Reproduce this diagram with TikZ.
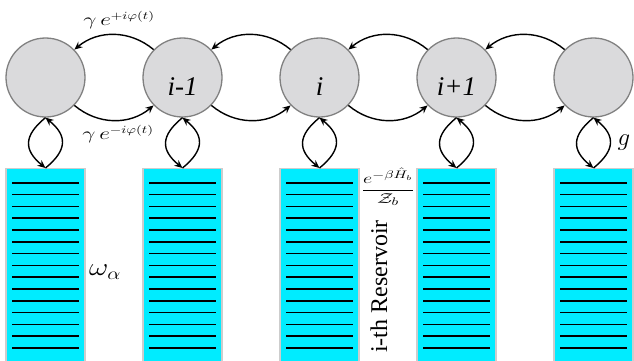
\documentclass[tikz,border=0pt]{standalone}
\usepackage{fontspec}
\usepackage{amsmath}
\setmainfont{Liberation Serif}
\newfontfamily\lblfont{Liberation Serif}
\usetikzlibrary{arrows.meta}
\definecolor{circfill}{RGB}{218,218,220}
\definecolor{circedge}{RGB}{128,128,128}
\definecolor{rescyan}{RGB}{0,236,255}
\definecolor{resedge}{RGB}{205,205,205}
\tikzset{
 osc/.style={circle, draw=circedge, fill=circfill, line width=1.3pt, minimum size=79pt, inner sep=0pt},
 res/.style={rectangle, draw=resedge, fill=rescyan, line width=1.3pt, minimum width=79pt, minimum height=200pt, anchor=north, inner sep=0pt},
 hop/.style={-{Stealth[length=8pt,width=7pt]}, line width=1.4pt},
 lvl/.style={line width=1.6pt},
 olbl/.style={font=\lblfont\fontsize{27}{30}\selectfont\itshape, anchor=base, inner sep=0pt},
 mlbl/.style={inner sep=0pt},
}
\begin{document}
\begin{tikzpicture}[x=1pt,y=1pt]
\useasboundingbox (0,0) rectangle (634,-360);
\clip (0,0) rectangle (634,-360);
\foreach \k/\x in {1/45.5,2/182.5,3/319.5,4/456.5,5/593.5} {
  \node[osc] (c\k) at (\x,-77.5) {};
  \node[res] (r\k) at (\x,-168) {};
  \foreach \j in {0,...,14} {
    \draw[lvl] ([shift={(-33.5,{-14.7-11.8*\j})}]r\k.north) -- ++(67,0);
  }
  \draw[hop] (c\k.south) .. controls +(-22,-18) and +(-22,18) .. (r\k.north);
  \draw[hop] (r\k.north) .. controls +(22,18) and +(22,-18) .. (c\k.south);
}
\foreach \a/\b in {1/2,2/3,3/4,4/5} {
  \draw[hop] (c\b.136) to[bend right=40] (c\a.44);
  \draw[hop] (c\a.-44) to[bend right=40] (c\b.-136);
}
\node[olbl] (l2) at (182.5,-95) {i-1};
\node[olbl] (l3) at (319.5,-95) {i};
\node[olbl] (l4) at (456.5,-95) {i+1};
\node[mlbl] (gp) at (119,-20) {\scalebox{1.35}[1]{\fontsize{16}{18}\selectfont $\gamma\, e^{+i\varphi(t)}$}};
\node[mlbl] (gm) at (118,-134) {\scalebox{1.35}[1]{\fontsize{16}{18}\selectfont $\gamma\, e^{-i\varphi(t)}$}};
\node[mlbl] (gg) at (624,-143) {\fontsize{28}{30}\selectfont $g$};
\node[mlbl] (om) at (105,-272) {\scalebox{1.2}[1]{\fontsize{23}{26}\selectfont $\omega_\alpha$}};
\node[mlbl] (fr) at (388,-187) {\scalebox{1.4}[1]{\fontsize{15}{18}\selectfont $\displaystyle\frac{e^{-\beta\hat{H}_b}}{\mathcal{Z}_b}$}};
\node[mlbl, rotate=90, font=\fontsize{24}{28}\selectfont] (rv) at (379,-286.5) {i-th Reservoir};
\end{tikzpicture}
\end{document}
